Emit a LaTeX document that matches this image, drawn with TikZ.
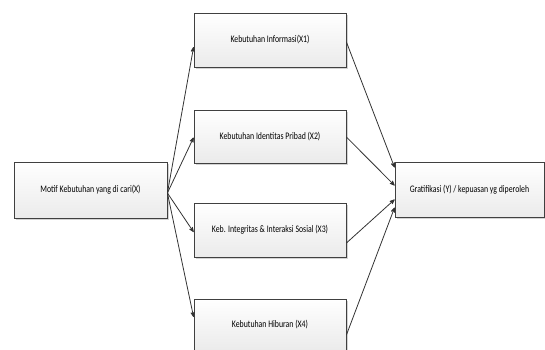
\documentclass[tikz,border=0pt]{standalone}
\usepackage{fontspec}
\setmainfont[FakeStretch=0.78]{Carlito}
\usetikzlibrary{calc}
\usetikzlibrary{arrows}
\usetikzlibrary{shadows}

\begin{document}
\begin{tikzpicture} [x=1pt, y=-1pt, font=\fontsize{10}{12}\selectfont,
  kotak/.style={draw=black!75, thick, top color=white, bottom color=black!8,
    drop shadow={opacity=.35, shadow xshift=1.5pt, shadow yshift=-1.5pt},
    minimum width=152pt, minimum height=54pt, inner sep=2pt},
  panah/.style={black!80, line width=.8pt, ->, >=stealth'}]
\useasboundingbox (0,0) rectangle (545,349);
\node[kotak, minimum width=153pt, minimum height=56pt] (motif) at (90.5,190) {Motif Kebutuhan yang di cari(X)};
\node[kotak] (x1) at (270,40) {Kebutuhan Informasi(X1)};
\node[kotak, minimum height=53pt] (x2) at (270,136.5) {Kebutuhan Identitas Pribad (X2)};
\node[kotak] (x3) at (270,230) {Keb. Integritas\,\& Interaksi Sosial (X3)};
\node[kotak, minimum height=52pt] (x4) at (270,325) {Kebutuhan Hiburan (X4)};
\node[kotak, minimum width=149pt, minimum height=55pt] (grat) at (469.5,189.5) {Gratifikasi (Y) / kepuasan yg diperoleh};
\coordinate (O) at ($(motif.east)+(0,3)$);
% ke kebutuhan
\foreach \n/\y in {x1/7, x2/1, x3/2, x4/-8} {
 \draw[panah] (O) -- ($(\n.west)+(0,\y)$);
}
% ke gratifikasi
\draw[panah] ($(x1.east)+(0,2)$) -- ($(grat.west)+(0,-22)$);
\draw[panah] ($(x2.east)+(0,0.5)$) -- ($(grat.west)+(0,-4)$);
\draw[panah] ($(x3.east)+(0,13)$) -- ($(grat.west)+(0,10)$);
\draw[panah] ($(x4.east)+(0,10)$) -- ($(grat.west)+(0,18)$);
\end{tikzpicture}
\end{document}
